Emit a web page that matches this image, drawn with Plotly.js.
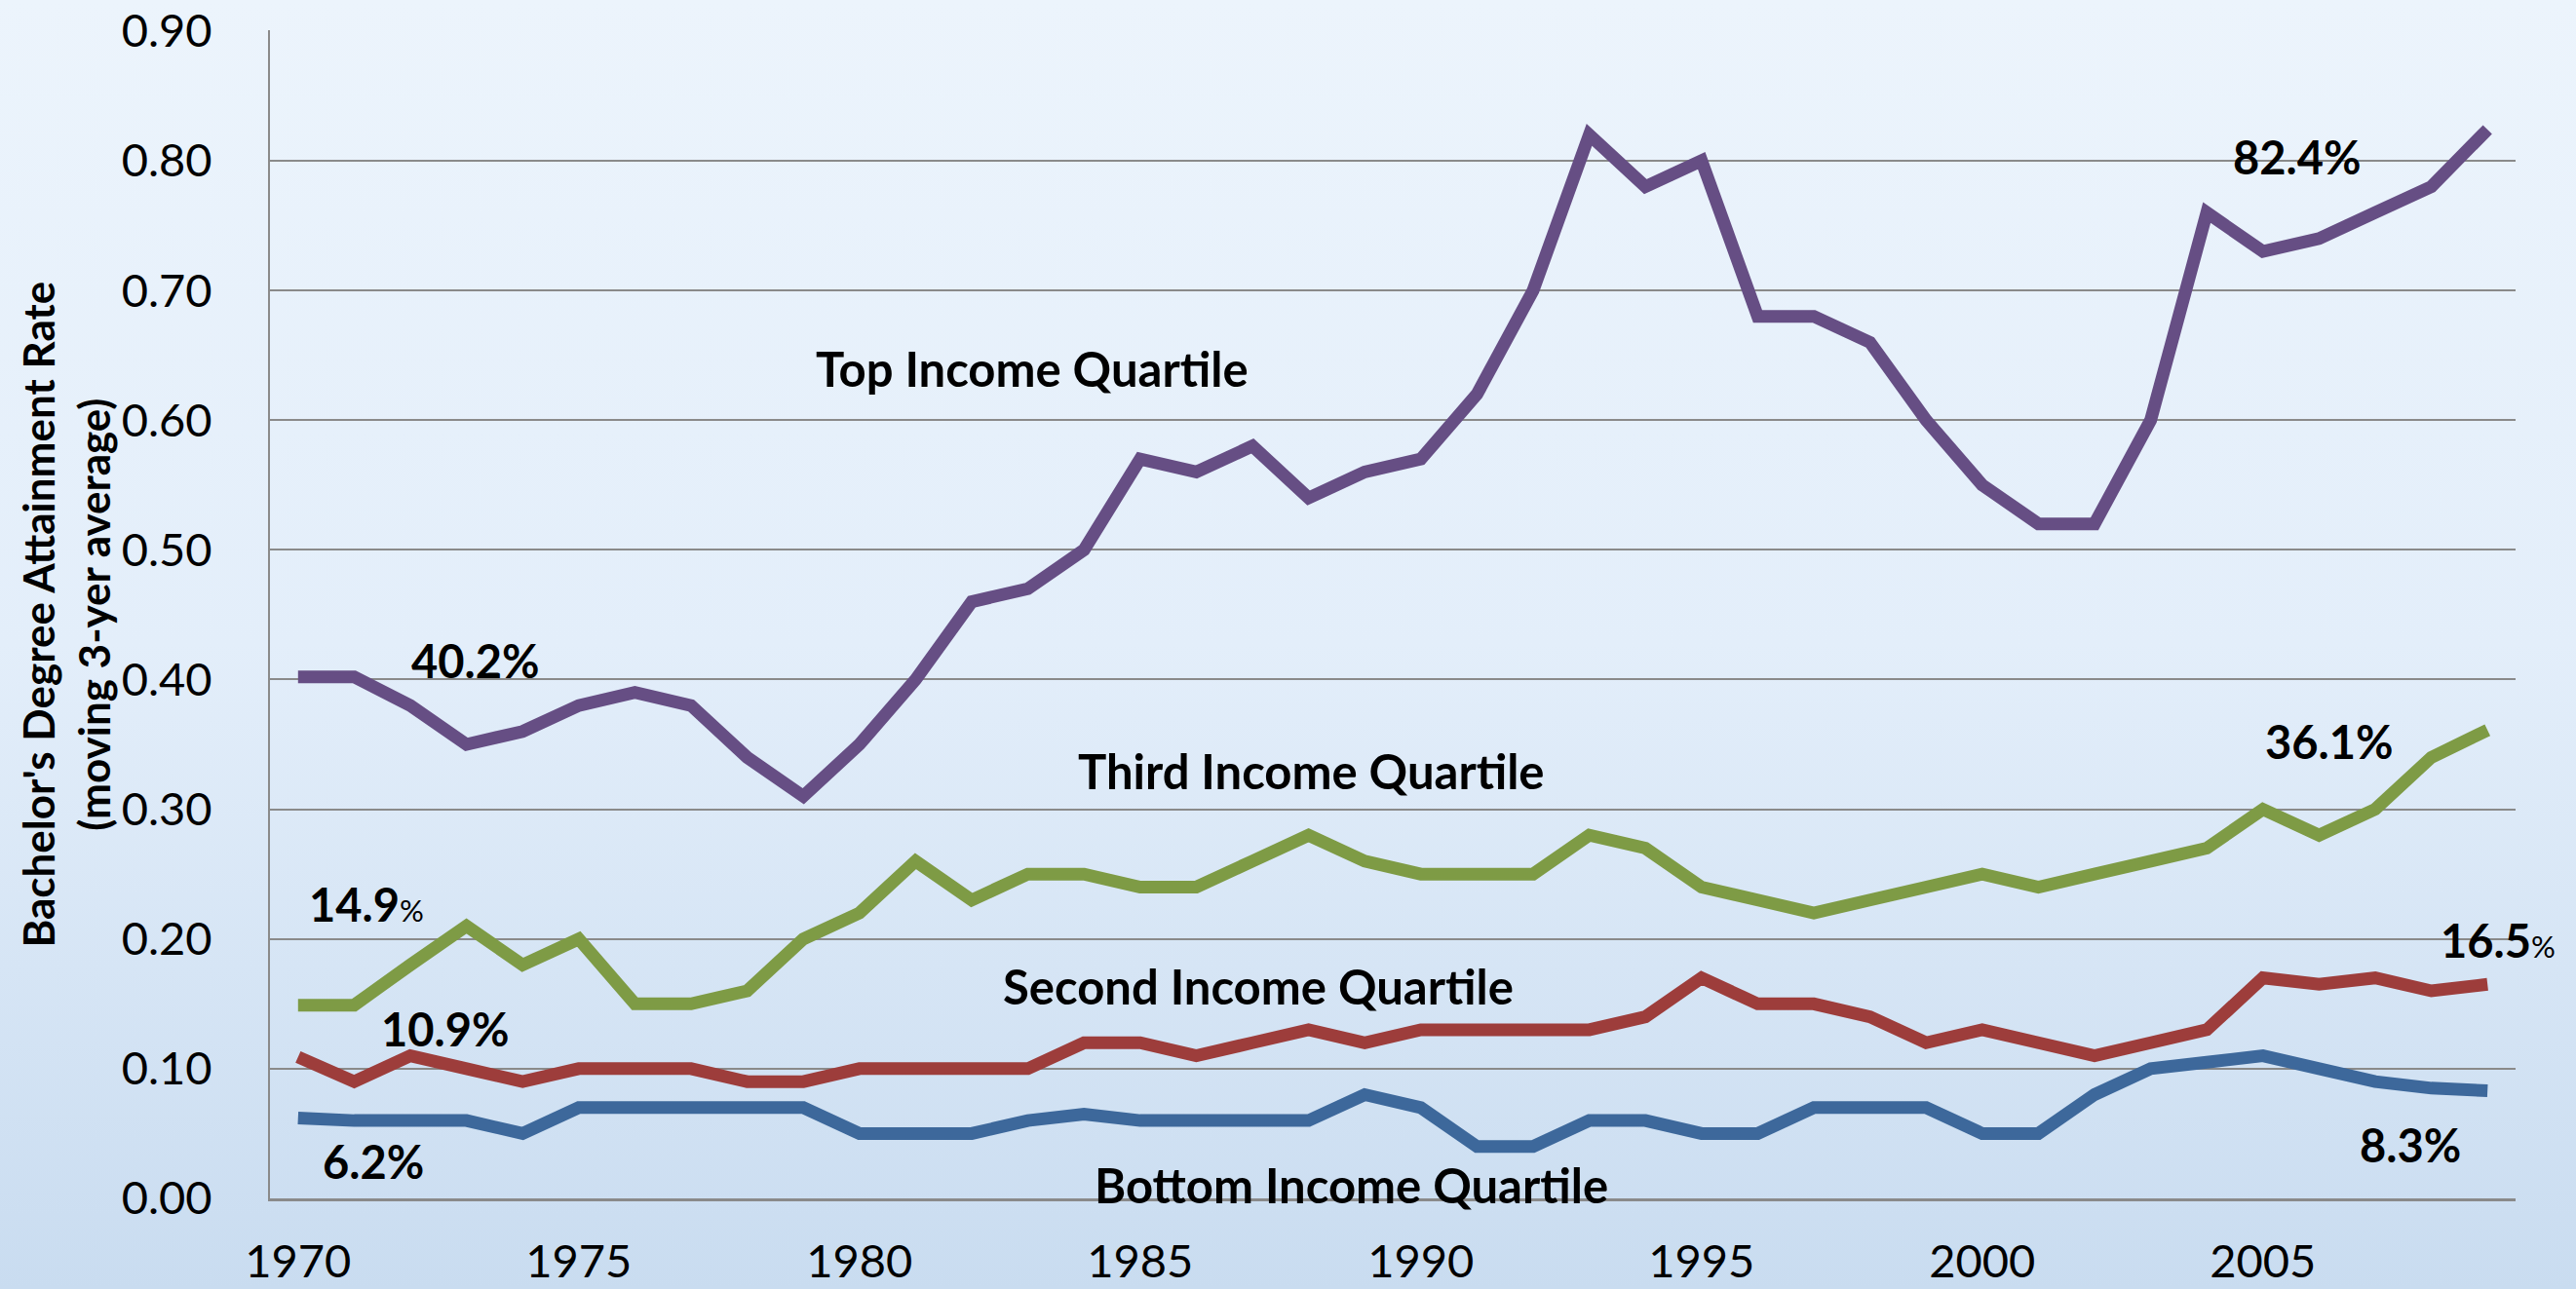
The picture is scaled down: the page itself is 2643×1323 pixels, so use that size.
<!DOCTYPE html>
<html>
<head>
<meta charset="utf-8">
<script src="https://cdn.plot.ly/plotly-3.0.1.min.js"></script>
<style>
  html, body { margin: 0; padding: 0; }
  body { width: 2643px; height: 1323px; background: linear-gradient(to bottom, #ecf4fc 0%, #e3eefa 50%, #c9dcf0 100%); }
  #chart { width: 2643px; height: 1323px; }
</style>
</head>
<body>
<div id="chart"></div>
<script>
const years = [1970,1971,1972,1973,1974,1975,1976,1977,1978,1979,
               1980,1981,1982,1983,1984,1985,1986,1987,1988,1989,
               1990,1991,1992,1993,1994,1995,1996,1997,1998,1999,
               2000,2001,2002,2003,2004,2005,2006,2007,2008,2009];

const topQuartile = [0.402,0.402,0.38,0.35,0.36,0.38,0.39,0.38,0.34,0.31,
                     0.35,0.40,0.46,0.47,0.50,0.57,0.56,0.58,0.54,0.56,
                     0.57,0.62,0.70,0.82,0.78,0.80,0.68,0.68,0.66,0.60,
                     0.55,0.52,0.52,0.60,0.76,0.73,0.74,0.76,0.78,0.824];

const thirdQuartile = [0.149,0.149,0.18,0.21,0.18,0.20,0.15,0.15,0.16,0.20,
                       0.22,0.26,0.23,0.25,0.25,0.24,0.24,0.26,0.28,0.26,
                       0.25,0.25,0.25,0.28,0.27,0.24,0.23,0.22,0.23,0.24,
                       0.25,0.24,0.25,0.26,0.27,0.30,0.28,0.30,0.34,0.361];

const secondQuartile = [0.109,0.09,0.11,0.10,0.09,0.10,0.10,0.10,0.09,0.09,
                        0.10,0.10,0.10,0.10,0.12,0.12,0.11,0.12,0.13,0.12,
                        0.13,0.13,0.13,0.13,0.14,0.17,0.15,0.15,0.14,0.12,
                        0.13,0.12,0.11,0.12,0.13,0.17,0.165,0.17,0.16,0.165];

const bottomQuartile = [0.062,0.06,0.06,0.06,0.05,0.07,0.07,0.07,0.07,0.07,
                        0.05,0.05,0.05,0.06,0.065,0.06,0.06,0.06,0.06,0.08,
                        0.07,0.04,0.04,0.06,0.06,0.05,0.05,0.07,0.07,0.07,
                        0.05,0.05,0.08,0.10,0.105,0.11,0.10,0.09,0.085,0.083];

const xTickVals = [1970,1975,1980,1985,1990,1995,2000,2005];
const xTickText = ["1970","1975","1980","1985","1990","1995","2000","2005"];
const yTickVals = [0,0.1,0.2,0.3,0.4,0.5,0.6,0.7,0.8,0.9];
const yTickText = ["0.00","0.10","0.20","0.30","0.40","0.50","0.60","0.70","0.80","0.90"];

const seriesNames = ["Bottom Income Quartile","Second Income Quartile","Third Income Quartile","Top Income Quartile"];
const seriesColors = ["#3d689b","#9d3d3b","#7e9b45","#664e84"];
const seriesValues = [bottomQuartile, secondQuartile, thirdQuartile, topQuartile];

const FONT = "Lato, 'Open Sans', 'DejaVu Sans', sans-serif";

const traces = seriesValues.map((vals, i) => ({
  type: "scatter",
  mode: "lines",
  name: seriesNames[i],
  x: years,
  y: vals,
  line: { color: seriesColors[i], width: 13, simplify: false },
  hoverinfo: "x+y",
  cliponaxis: false
}));

function lbl(text, x, y, size) {
  return {
    text: text, x: x, y: y, xref: "x", yref: "y",
    showarrow: false, xanchor: "center", yanchor: "middle",
    font: { family: FONT, size: size || 47, color: "#000000" }
  };
}

const annotations = [
  lbl("<b>Top Income Quartile</b>", 1983.07, 0.640, 49),
  lbl("<b>Third Income Quartile</b>", 1988.05, 0.330, 49),
  lbl("<b>Second Income Quartile</b>", 1987.1, 0.164, 49),
  lbl("<b>Bottom Income Quartile</b>", 1988.76, 0.0105, 49),
  lbl("<b>40.2%</b>", 1973.15, 0.415),
  lbl("<b>14.9</b><span style='font-size:31px;font-weight:400'>%</span>", 1971.22, 0.227),
  lbl("<b>10.9%</b>", 1972.61, 0.131),
  lbl("<b>6.2%</b>", 1971.34, 0.0285),
  lbl("<b>82.4%</b>", 2005.61, 0.803),
  lbl("<b>36.1%</b>", 2006.17, 0.352),
  lbl("<b>16.5</b><span style='font-size:31px;font-weight:400'>%</span>", 2009.18, 0.199),
  lbl("<b>8.3%</b>", 2007.63, 0.041),
  {
    text: "<b>Bachelor's Degree Attainment Rate<br>(moving 3-yer average)</b>",
    xref: "paper", yref: "paper", x: -0.0911, y: 0.5,
    xanchor: "center", yanchor: "middle", textangle: -90, showarrow: false,
    font: { family: FONT, size: 44, color: "#000000" }
  }
];

const layout = {
  width: 2643,
  height: 1323,
  margin: { l: 277, r: 62, t: 31, b: 93, pad: 0 },
  paper_bgcolor: "rgba(0,0,0,0)",
  plot_bgcolor: "rgba(0,0,0,0)",
  showlegend: false,
  font: { family: FONT, color: "#000000" },
  xaxis: {
    type: "linear",
    range: [1969.5, 2009.5],
    tickmode: "array",
    tickvals: xTickVals,
    ticktext: xTickText,
    showgrid: false,
    zeroline: false,
    showline: true,
    linecolor: "#8a8a8a",
    linewidth: 3,
    ticks: "outside",
    ticklen: 22,
    tickcolor: "rgba(0,0,0,0)",
    tickfont: { family: FONT, size: 47, color: "#000000" },
    fixedrange: true
  },
  yaxis: {
    range: [0, 0.9006],
    tickmode: "array",
    tickvals: yTickVals,
    ticktext: yTickText,
    showgrid: true,
    gridcolor: "#8a8a8a",
    gridwidth: 2,
    zeroline: false,
    showline: true,
    linecolor: "#8a8a8a",
    linewidth: 2,
    ticks: "outside",
    ticklen: 48,
    tickcolor: "rgba(0,0,0,0)",
    tickfont: { family: FONT, size: 47, color: "#000000" },
    fixedrange: true
  },
  annotations: annotations
};

Plotly.newPlot("chart", traces, layout, { displayModeBar: false, staticPlot: true });
</script>
</body>
</html>
